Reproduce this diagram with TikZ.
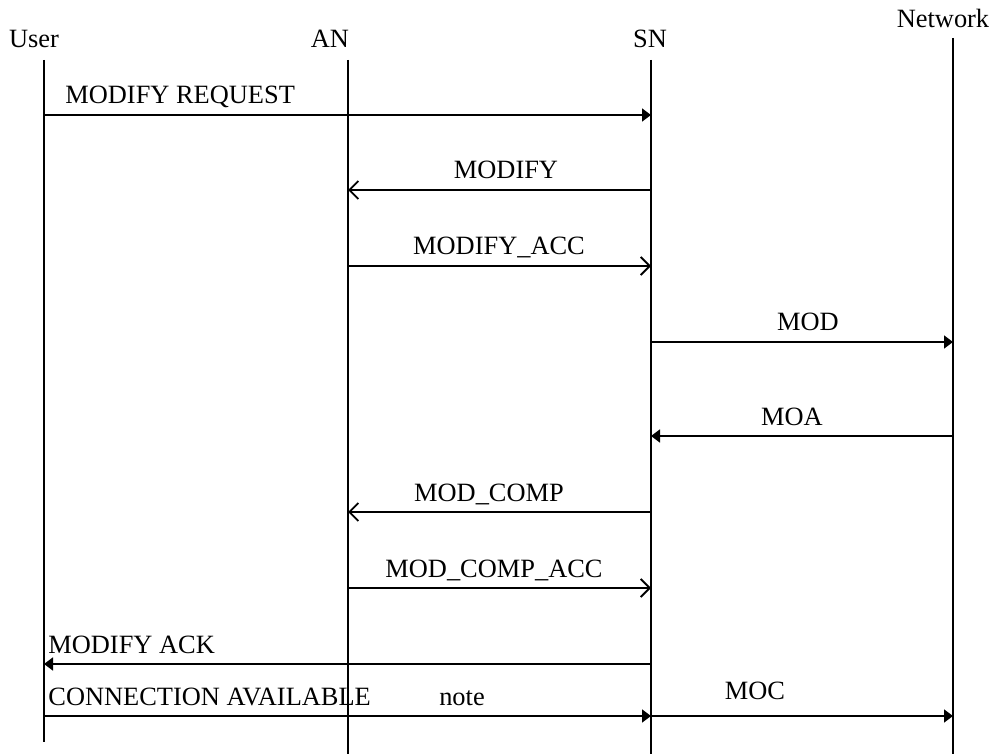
\documentclass[tikz,border=0pt]{standalone}
\usepackage{fontspec}
\setmainfont{Liberation Serif}
\usetikzlibrary{arrows.meta,positioning}

\begin{document}
\begin{tikzpicture}[x=0.5pt,y=-0.5pt,
  life/.style={line width=1.1pt},
  msgfull/.style={line width=0.85pt,-{Triangle[length=4.5pt,width=6.5pt]}},
  msgopen/.style={line width=0.85pt,-{Straight Barb[length=4.5pt,width=9pt,line width=0.9pt]}},
  lbl/.style={font=\fontsize{13.2}{16}\selectfont,inner sep=0pt,anchor=base}]
\useasboundingbox (0,0) rectangle (991,754);
% Lebenslinien: Kopf und Fuss als Koordinaten
\coordinate (user) at (44,60);   \coordinate (userend) at (44,742);
\coordinate (an) at (348,60);    \coordinate (anend) at (348,754);
\coordinate (sn) at (651,60);    \coordinate (snend) at (651,754);
\coordinate (net) at (953,38);   \coordinate (netend) at (953,754);
\draw[life] (user) -- (userend);
\draw[life] (an) -- (anend);
\draw[life] (sn) -- (snend);
\draw[life] (net) -- (netend);
\node[lbl] (userlbl) at (34,48) {User};
\node[lbl] (anlbl) at (330,48) {AN};
\node[lbl] (snlbl) at (650,48) {SN};
\node[lbl] (netlbl) at (943,28) {Network};
% Nachrichten
\draw[msgfull] (user |- 0,115) -- (sn |- 0,115);
\node[lbl,anchor=base west] (modreq) at (65,104) {MODIFY REQUEST};
\draw[msgopen] (sn |- 0,190) -- (an |- 0,190);
\node[lbl] (modify) at (506,179) {MODIFY};
\draw[msgopen] (an |- 0,266) -- (sn |- 0,266);
\node[lbl] (modacc) at (499,255) {MODIFY\_ACC};
\draw[msgfull] (sn |- 0,342) -- (net |- 0,342);
\node[lbl] (mod) at (808,331) {MOD};
\draw[msgfull] (net |- 0,436) -- (sn |- 0,436);
\node[lbl] (moa) at (792,425) {MOA};
\draw[msgopen] (sn |- 0,512) -- (an |- 0,512);
\node[lbl] (modcomp) at (489,501) {MOD\_COMP};
\draw[msgopen] (an |- 0,588) -- (sn |- 0,588);
\node[lbl] (modcompacc) at (494,577) {MOD\_COMP\_ACC};
\draw[msgfull] (sn |- 0,664) -- (user |- 0,664);
\node[lbl,anchor=base west] (modack) at (48,653) {MODIFY ACK};
% letzte Zeile
\draw[msgfull] (user |- 0,716) -- (sn |- 0,716);
\node[lbl,anchor=base west] (connav) at (48,705) {CONNECTION AVAILABLE};
\node[lbl] (note) at (462,705) {note};
\draw[msgfull] (sn |- 0,716) -- (net |- 0,716);
\node[lbl] (moc) at (755,699) {MOC};
\end{tikzpicture}
\end{document}
